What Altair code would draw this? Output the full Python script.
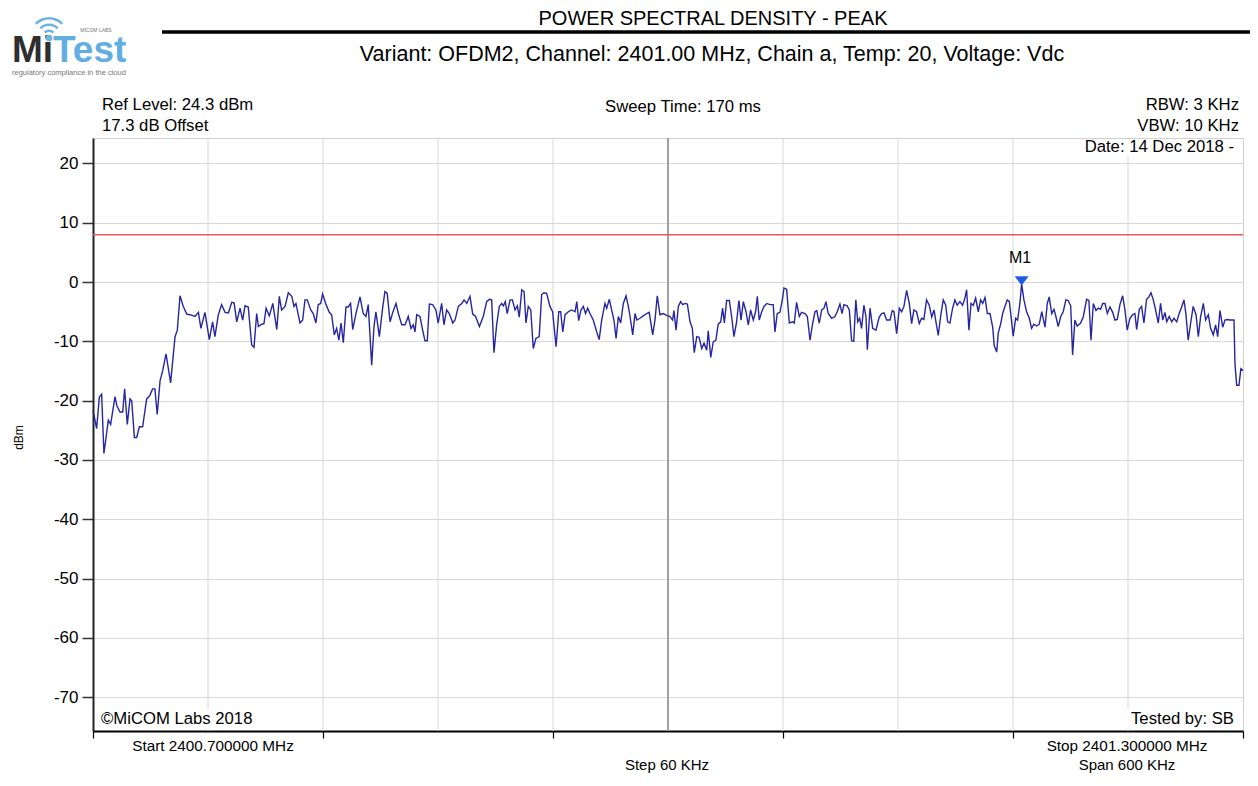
import altair as alt
import pandas as pd

FONT = "Liberation Sans"

# ---- trace readings (frequency offset from start in kHz, level in dBm) ----
freq_a = [0.0, 1.9, 3.3, 4.5, 5.7, 8.0, 9.2, 11.5, 12.4, 14.1, 15.5, 16.5, 17.9, 19.3, 20.2, 21.6, 22.8, 24.2, 25.9, 28.0,
          29.7, 31.1, 32.3, 33.5, 35.0, 36.4, 38.1, 40.5, 42.8, 44.0, 45.4, 47.1, 48.9, 50.6, 53.2, 55.0, 56.3, 58.4, 60.7, 62.4,
          63.6, 65.4, 67.1, 68.9, 70.6, 72.4, 73.6, 75.0, 76.7, 78.1, 79.3, 81.0, 82.8, 84.0, 85.4, 86.3, 88.0, 89.2, 90.3, 92.0,
          93.8, 95.9, 97.2, 98.4, 100.2, 101.9]
level_a = [-21.6, -24.7, -19.4, -18.9, -28.9, -23.3, -24.0, -19.3, -20.8, -21.9, -21.9, -18.0, -24.0, -19.7, -20.0, -26.2, -26.2, -24.4, -24.4, -19.7,
           -19.1, -18.0, -18.0, -22.3, -16.6, -14.9, -12.1, -17.0, -9.2, -8.1, -2.3, -4.1, -5.4, -5.5, -5.8, -5.1, -7.8, -5.1, -9.7, -6.7,
           -9.2, -5.5, -3.8, -5.1, -5.2, -3.4, -3.5, -6.7, -4.4, -6.4, -4.0, -4.2, -10.6, -11.0, -5.3, -7.5, -7.1, -7.0, -4.4, -5.7,
           -3.6, -8.0, -2.4, -4.7, -4.1, -1.8]

freq_b = [103.7, 104.9, 105.9, 108.0, 109.4, 110.6, 111.8, 113.6, 114.9, 116.3, 117.5, 118.8, 119.8, 121.6, 123.3, 124.5, 125.9, 127.1, 128.3, 129.4,
          130.6, 132.0, 133.2, 134.4, 135.5, 137.2, 139.3, 141.0, 142.4, 143.6, 145.4, 146.6, 147.6, 149.4, 151.1, 152.3, 153.5, 155.0, 156.4, 158.1,
          159.3, 161.1, 162.8, 164.5, 165.9, 167.1, 168.0, 168.9, 170.6, 172.0, 173.2, 174.4, 175.5, 177.2, 178.9, 180.1, 181.9, 183.1, 184.5, 185.9,
          187.7, 188.9, 190.6, 192.4, 193.6, 195.0, 196.7, 198.1, 199.6, 201.6]
level_b = [-2.4, -4.1, -3.6, -6.9, -6.4, -3.0, -3.0, -4.7, -5.3, -6.9, -3.8, -3.6, -2.0, -3.8, -5.1, -5.5, -8.9, -7.8, -9.8, -6.9,
           -10.2, -4.2, -4.2, -3.6, -8.0, -5.3, -2.5, -5.3, -5.8, -3.8, -14.0, -7.5, -5.0, -9.2, -4.4, -1.6, -1.9, -6.7, -5.1, -3.6,
           -5.3, -7.2, -7.2, -5.8, -7.8, -7.2, -8.4, -5.5, -5.8, -8.1, -9.9, -9.9, -3.7, -3.8, -4.7, -6.9, -3.6, -7.2, -4.7, -5.3,
           -6.9, -6.4, -4.1, -3.6, -3.0, -3.6, -2.4, -5.4, -5.8, -7.5]

freq_c = [203.6, 205.4, 206.8, 208.0, 209.2, 210.6, 212.0, 213.2, 214.1, 215.1, 216.1, 217.6, 218.8, 220.2, 221.4, 222.4, 223.7, 224.9, 225.9, 227.1,
          228.4, 229.7, 231.1, 232.8, 234.1, 235.3, 236.7, 238.4, 239.8, 241.6, 243.0, 244.0, 245.1, 246.3, 248.0, 249.7, 251.5, 252.4, 253.4, 254.6,
          255.8, 257.0, 258.1, 259.3, 261.0, 262.8, 264.1, 265.4, 267.1, 268.0, 269.4, 270.6, 271.8, 272.9, 274.1, 275.3, 276.7, 278.1, 279.3, 280.2,
          281.6, 282.8, 283.7, 285.4, 287.1, 288.9, 290.2, 292.0, 293.2, 294.4, 295.8, 297.5, 299.3]
level_c = [-5.8, -3.3, -2.9, -3.0, -11.9, -7.2, -4.1, -3.6, -4.0, -3.3, -5.3, -3.0, -3.0, -4.7, -4.0, -5.9, -1.3, -1.6, -6.9, -4.1,
           -4.7, -11.2, -9.5, -9.2, -2.1, -1.8, -1.9, -4.1, -5.0, -10.9, -5.0, -5.0, -8.4, -5.5, -5.0, -4.7, -5.0, -3.3, -6.5, -4.7,
           -4.1, -5.3, -4.4, -5.3, -6.4, -8.4, -9.7, -6.4, -3.6, -4.4, -2.9, -4.7, -6.4, -9.5, -5.8, -6.9, -3.6, -2.3, -4.1, -5.8,
           -8.9, -5.3, -6.4, -6.1, -5.7, -5.3, -5.1, -8.9, -6.4, -2.3, -5.5, -5.3, -5.6]

freq_d = [301.0, 302.4, 303.1, 304.2, 305.4, 306.6, 307.7, 308.9, 310.1, 311.5, 312.7, 313.7, 315.0, 316.2, 317.6, 318.8, 320.2, 321.0, 322.3, 323.6,
          325.0, 326.2, 327.5, 328.5, 329.4, 330.6, 332.0, 333.2, 334.4, 335.8, 337.0, 338.1, 339.3, 340.7, 341.9, 343.1, 344.5, 345.7, 346.6, 347.6,
          348.9, 350.1, 351.5, 353.2, 354.9, 355.8, 357.0, 358.4, 359.8, 360.5, 361.9, 363.3, 365.0, 365.9, 367.1, 368.5, 369.7, 371.5, 372.7, 374.1,
          375.5, 376.7, 377.6, 378.9, 380.2, 381.4, 382.4, 383.6, 385.4, 387.1, 388.3, 389.7, 390.8, 391.8, 393.5, 394.6, 395.8, 396.9, 398.0, 399.0,
          400.0]
level_d = [-5.8, -6.4, -4.8, -8.1, -4.1, -3.3, -3.8, -3.6, -3.7, -6.7, -7.8, -11.9, -9.2, -9.3, -11.2, -10.3, -11.5, -8.2, -12.7, -10.1,
           -9.8, -7.1, -6.7, -4.4, -6.9, -3.1, -3.1, -5.8, -9.2, -6.7, -3.1, -6.4, -3.3, -5.0, -7.2, -4.7, -6.4, -5.0, -2.4, -6.4,
           -5.0, -4.1, -3.6, -3.8, -3.8, -8.4, -5.3, -5.1, -2.7, -1.0, -1.2, -6.9, -6.7, -6.9, -3.4, -5.8, -5.1, -5.3, -5.8, -9.8,
           -6.9, -5.0, -4.8, -6.9, -4.7, -4.4, -3.3, -5.3, -6.1, -5.8, -5.0, -3.7, -5.3, -3.8, -4.0, -4.7, -9.9, -10.0, -3.0, -6.7,
           -6.1]

freq_e = [401.0, 402.2, 403.3, 404.0, 405.4, 406.8, 408.5, 410.2, 411.5, 412.7, 414.1, 415.8, 417.0, 417.9, 419.3, 420.7, 421.9, 423.1, 424.5, 425.9,
          427.1, 428.3, 429.7, 431.1, 432.3, 433.5, 434.9, 436.3, 437.6, 438.8, 439.8, 441.0, 442.3, 443.6, 444.9, 445.9, 447.1, 448.5, 449.7, 450.9,
          452.3, 453.7, 454.9, 455.8, 457.0, 458.1, 459.3, 460.5, 461.9, 463.1, 464.2, 465.4, 466.6, 468.0, 469.4, 470.2, 471.5, 472.3, 473.6, 474.6,
          475.8, 477.0, 478.1, 479.3, 480.1, 481.4, 482.4, 483.6, 484.5, 485.7, 487.1, 488.5, 489.7, 490.9, 492.4, 493.7, 495.0, 496.7, 497.9, 498.9]
level_e = [-7.8, -3.9, -5.9, -11.4, -4.4, -7.8, -8.1, -5.9, -5.3, -5.2, -6.4, -6.4, -4.8, -5.0, -8.7, -4.4, -5.0, -4.1, -1.4, -3.6,
           -7.0, -4.7, -5.0, -7.0, -6.1, -6.3, -3.0, -3.9, -5.9, -4.7, -6.7, -9.0, -5.6, -3.0, -3.9, -6.7, -6.9, -4.4, -3.0, -3.9,
           -3.3, -3.9, -2.7, -1.3, -8.1, -3.6, -3.9, -2.7, -5.0, -3.0, -3.6, -2.6, -5.3, -5.3, -7.6, -10.7, -11.8, -8.6, -7.0, -5.3,
           -4.1, -3.0, -3.3, -6.7, -9.1, -6.1, -6.4, -3.6, -0.3, -3.0, -5.0, -6.1, -7.8, -7.1, -7.4, -7.1, -5.0, -7.6, -3.6, -2.5]

freq_f = [500.2, 501.4, 502.4, 503.6, 504.9, 506.2, 507.6, 508.8, 510.1, 511.1, 512.3, 513.5, 515.3, 516.7, 518.4, 519.6, 520.7, 521.9, 523.3, 524.5,
          525.7, 526.8, 528.0, 529.2, 530.6, 532.0, 533.2, 534.4, 535.8, 537.2, 538.4, 539.6, 541.0, 542.4, 543.6, 544.5, 545.9, 547.1, 548.3, 549.7,
          550.9, 552.0, 553.2, 554.4, 555.8, 557.0, 558.1, 559.3, 560.2, 561.5, 562.8, 564.0, 565.4, 566.7, 568.0, 569.2, 570.2, 571.4, 572.7, 574.0,
          575.5, 576.7, 577.9, 579.3, 580.5, 581.9, 583.1, 584.5, 585.7, 586.8, 588.0, 589.4, 590.6, 591.8, 593.2, 595.3, 595.8, 596.7, 597.9, 598.9,
          600.0]
level_f = [-5.3, -4.6, -5.8, -7.5, -5.8, -5.0, -3.0, -3.1, -4.0, -12.3, -6.4, -7.4, -6.9, -5.8, -2.9, -3.1, -9.8, -3.6, -4.8, -4.4,
           -4.6, -3.6, -3.6, -5.3, -4.2, -5.1, -6.4, -6.3, -3.8, -2.3, -4.7, -8.1, -6.1, -5.5, -5.3, -8.0, -4.6, -4.1, -6.9, -2.9,
           -2.5, -1.8, -3.0, -4.7, -6.9, -3.6, -6.4, -5.1, -6.7, -5.8, -6.7, -6.1, -6.7, -5.3, -4.2, -3.0, -5.3, -9.8, -6.9, -4.1,
           -5.5, -9.2, -5.8, -3.6, -6.4, -5.5, -7.8, -8.9, -7.2, -9.2, -4.8, -7.6, -6.4, -6.3, -6.4, -6.4, -13.7, -17.4, -17.4, -14.6,
           -14.9]

segments = [(freq_a, level_a), (freq_b, level_b), (freq_c, level_c),
            (freq_d, level_d), (freq_e, level_e), (freq_f, level_f)]
freq_khz, level_dbm = [], []
for f, l in segments:
    assert len(f) == len(l), (len(f), len(l))
    freq_khz += f
    level_dbm += l

grid_khz = [60, 120, 180, 240, 360, 420, 480, 540]
center_khz = [300]
limit_dbm = [8.0]
marker_khz = [484.5]
marker_dbm = [-0.3]
x_ticks = [0, 120, 240, 360, 480, 600]
y_ticks = [20, 10, 0, -10, -20, -30, -40, -50, -60, -70]

trace_df = pd.DataFrame({"khz": freq_khz, "dbm": level_dbm})
grid_df = pd.DataFrame({"khz": grid_khz})
center_df = pd.DataFrame({"khz": center_khz})
limit_df = pd.DataFrame({"dbm": limit_dbm})
marker_df = pd.DataFrame({"khz": marker_khz, "dbm": marker_dbm})

OX, OY = 93, 138  # plot origin on the page

xscale = alt.Scale(domain=[0, 600], nice=False, zero=False)
yscale = alt.Scale(domain=[-75.7, 24.3], nice=False, zero=False)
xaxis = alt.Axis(values=x_ticks, labels=False, grid=False, title=None, tickSize=7,
                 tickColor="black", tickWidth=1.2, domainColor="black", domainWidth=2)
yaxis = alt.Axis(values=y_ticks, grid=True, gridColor="#d8d8d8", gridWidth=1,
                 tickSize=11, tickColor="#333333", tickWidth=1.5, domainColor="#222222", domainWidth=2,
                 labelFontSize=17, labelPadding=4, labelColor="black", labelExpr="datum.value + ''",
                 title="dBm", titleFontSize=12, titleFontWeight="normal", titleColor="black",
                 titleX=18 - OX, titleY=437 - OY, titleAngle=270, titleAlign="center", titleBaseline="middle")
X = alt.X("khz:Q", scale=xscale, axis=xaxis)
Y = alt.Y("dbm:Q", scale=yscale, axis=yaxis)

one = pd.DataFrame({"t": [""]})


def label(s, x, y, size=16.7, align="left", color="black", weight="normal", baseline="middle"):
    return alt.Chart(pd.DataFrame({"t": [s]})).mark_text(
        align=align, baseline=baseline, fontSize=size, color=color, fontWeight=weight, font=FONT
    ).encode(x=alt.value(x - OX), y=alt.value(y - OY), text="t:N")


def box(x1, x2, y1, y2, color="white"):
    return alt.Chart(one).mark_rect(color=color, opacity=1).encode(
        x=alt.value(x1 - OX), x2=alt.value(x2 - OX), y=alt.value(y1 - OY), y2=alt.value(y2 - OY))


grid_rules = alt.Chart(grid_df).mark_rule(color="#d8d8d8", strokeWidth=1).encode(x=X)
center_rule = alt.Chart(center_df).mark_rule(color="#a0a0a0", strokeWidth=2).encode(x=X)
limit_rule = alt.Chart(limit_df).mark_rule(color="#e85a5a", strokeWidth=1.5).encode(y=Y)
trace = alt.Chart(trace_df).mark_line(color="#2626a2", strokeWidth=1.4).encode(x=X, y=Y)
marker = alt.Chart(marker_df).mark_point(
    shape="M-1,-0.65L1,-0.65L0,0.65Z", filled=True, size=196, color="#1f5ce6", opacity=1, yOffset=-3
).encode(x=X, y=Y)

title_rule = alt.Chart(one).mark_rule(color="black", strokeWidth=3.5).encode(
    x=alt.value(162 - OX), x2=alt.value(1258 - OX), y=alt.value(32 - OY))

arcs = [
    alt.Chart(one).mark_arc(radius=r, radius2=r - 2.6, theta=5.5, theta2=7.07, color="#6cb4e6").encode(
        x=alt.value(49 - OX), y=alt.value(37 - OY))
    for r in (20, 13.5, 7.5)
]
idot = alt.Chart(one).mark_circle(color="#6cb4e6", size=45, opacity=1).encode(
    x=alt.value(49 - OX), y=alt.value(38 - OY))

layers = [
    grid_rules, center_rule, limit_rule, trace, marker,
    box(1086, 1238, 139, 156), box(98, 256, 709, 729), box(1124, 1238, 709, 729),
    label("POWER SPECTRAL DENSITY - PEAK", 713, 18.5, size=20, align="center"),
    title_rule,
    label("Variant: OFDM2, Channel: 2401.00 MHz, Chain a, Temp: 20, Voltage:  Vdc", 712, 55, size=21.5, align="center"),
    label("Mi", 12, 62, size=37, weight="bold", color="#2e2e2e", baseline="alphabetic"),
    label("Test", 53, 62, size=37, weight="bold", color="#62aee3", baseline="alphabetic"),
    *arcs, idot,
    label("MICOM LABS", 96, 30, size=5, color="#777777", align="center"),
    label("regulatory compliance in the cloud", 12, 73, size=7.5, color="#777777"),
    label("Ref Level: 24.3 dBm", 102, 105),
    label("17.3 dB Offset", 102, 126),
    label("Sweep Time: 170 ms", 683, 107, align="center"),
    label("RBW: 3 KHz", 1239, 105, align="right"),
    label("VBW: 10 KHz", 1239, 126, align="right"),
    label("Date: 14 Dec 2018 -", 1234, 147, align="right"),
    label("©MiCOM Labs 2018", 101, 719),
    label("Tested by: SB", 1234, 719, align="right"),
    label("M1", 1020, 258, size=16, align="center"),
    label("Start 2400.700000 MHz", 213, 746, size=15.3, align="center"),
    label("Stop 2401.300000 MHz", 1127, 746, size=15.3, align="center"),
    label("Step 60 KHz", 667, 765, size=15, align="center"),
    label("Span 600 KHz", 1127, 765, size=15, align="center"),
]

chart = alt.layer(*layers).properties(
    width=1150, height=593,
    autosize=alt.AutoSizeParams(type="none"),
    padding={"left": 85, "top": 130, "right": 7, "bottom": 42},
).configure(font=FONT).configure_view(stroke="#d0d0d0", strokeWidth=1)

chart.save("out.html", embed_options={"renderer": "svg", "actions": False})
